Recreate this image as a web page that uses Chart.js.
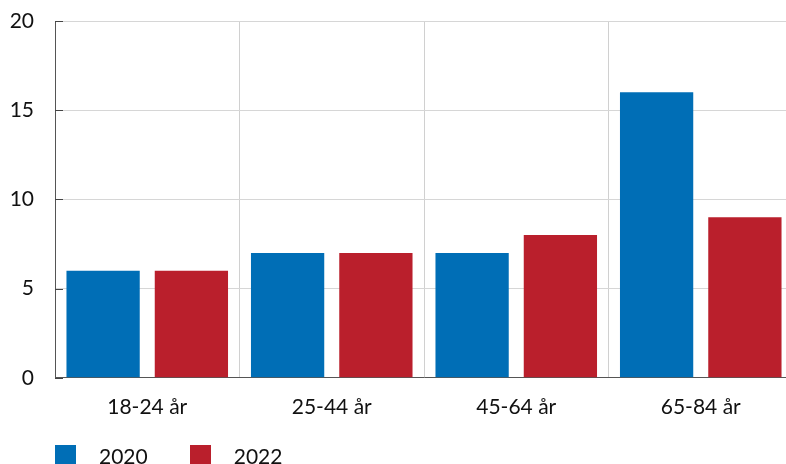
<!DOCTYPE html>
<html>
<head>
<meta charset="utf-8">
<script src="https://cdn.jsdelivr.net/npm/chart.js@4"></script>
<style>
  body { margin:0; background:#fff; font-family:Lato, sans-serif; }
  #wrap { position:relative; width:786px; height:464px; overflow:hidden; }
  #box { position:absolute; left:0; top:0; width:800px; height:464px; }
  #legend { position:absolute; left:55px; top:443px; display:flex; font-size:21px; color:#111; }
  #legend .item { display:flex; align-items:center; margin-right:42px; }
  #legend .sw { width:21px; height:21px; margin-right:23px; }
</style>
</head>
<body>
<div id="wrap">
  <div id="box"><canvas id="chart" width="800" height="464"></canvas></div>
  <div id="legend"></div>
</div>
<script>
// data
const categories = ["18-24 år", "25-44 år", "45-64 år", "65-84 år"];
const years = ["2020", "2022"];
const values2020 = [6, 7, 7, 16];
const values2022 = [6, 7, 8, 9];
const yTicks = [0, 5, 10, 15, 20];
const colors = ["#006EB6", "#BA1F2C"];

// inward tick marks on the y axis
const innerTicks = {
  id: "innerTicks",
  afterDraw(chart) {
    const y = chart.scales.y, ctx = chart.ctx, left = chart.chartArea.left;
    ctx.save();
    ctx.strokeStyle = "#444";
    ctx.lineWidth = 1;
    yTicks.forEach(v => {
      const py = Math.round(y.getPixelForValue(v)) + 0.5;
      ctx.beginPath();
      ctx.moveTo(left, py);
      ctx.lineTo(left + 8, py);
      ctx.stroke();
    });
    ctx.restore();
  }
};

Chart.defaults.font.family = "Lato, sans-serif";
Chart.defaults.color = "#111";

new Chart(document.getElementById("chart"), {
  type: "bar",
  data: {
    labels: categories,
    datasets: [
      { label: years[0], data: values2020, backgroundColor: colors[0] },
      { label: years[1], data: values2022, backgroundColor: colors[1] }
    ]
  },
  options: {
    responsive: false,
    animation: false,
    categoryPercentage: 0.957,
    barPercentage: 0.83,
    layout: { padding: { top: 21, right: 7, bottom: 27, left: 0 } },
    plugins: { legend: { display: false }, tooltip: { enabled: false } },
    scales: {
      x: {
        grid: { offset: true, color: "#d0d0d0", drawTicks: false },
        border: { color: "#555" },
        ticks: { font: { size: 21 }, padding: 17 }
      },
      y: {
        min: 0, max: 20,
        afterBuildTicks: s => { s.ticks = yTicks.map(v => ({ value: v })); },
        afterFit: s => { s.width = 55; s.paddingTop = 0; s.paddingBottom = 0; },
        grid: { color: "#d6d6d6", drawTicks: false },
        border: { color: "#555" },
        ticks: { font: { size: 21 }, padding: 21 }
      }
    }
  },
  plugins: [innerTicks]
});

// legend
const legend = document.getElementById("legend");
years.forEach((y, i) => {
  const item = document.createElement("div");
  item.className = "item";
  item.innerHTML = '<span class="sw" style="background:' + colors[i] + '"></span><span>' + y + '</span>';
  legend.appendChild(item);
});
</script>
</body>
</html>
